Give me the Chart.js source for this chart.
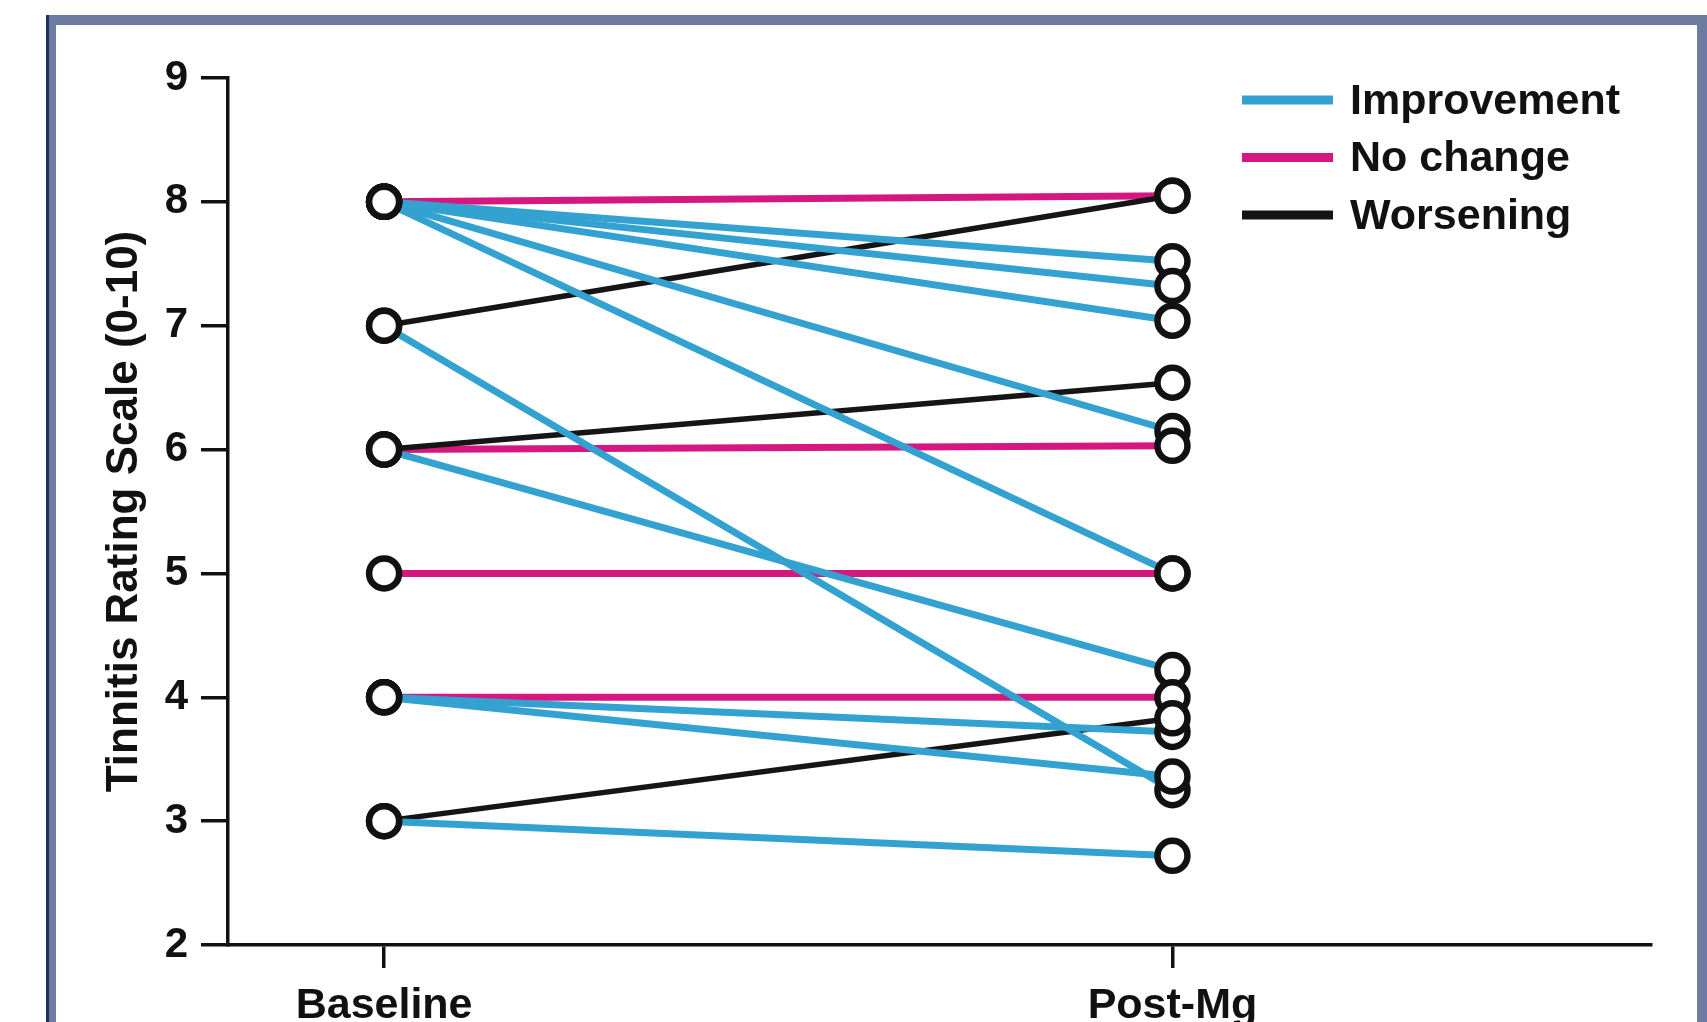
<!DOCTYPE html>
<html>
<head>
<meta charset="utf-8">
<script src="https://cdn.jsdelivr.net/npm/chart.js@4.4.1/dist/chart.umd.min.js"></script>
<style>
  html, body { margin: 0; padding: 0; background: #fff; overflow: hidden; }
  #frame { position: absolute; left: 46px; top: 15px; width: 1641px; height: 1100px; border: 10px solid #6b7ba1; border-bottom: none; }
  #frame::before { content: ''; position: absolute; left: -10px; top: -10px; width: 3px; bottom: 0; background: #22305e; }
  #wrap { position: absolute; left: 0; top: 0; width: 1707px; height: 1022px; }
</style>
</head>
<body>
<div id="frame"></div>
<div id="wrap"><canvas id="chart"></canvas></div>
<script>
const categories = ['Baseline', 'Post-Mg'];
const outcomeNames = ['Improvement', 'No change', 'Worsening'];

// one entry per patient
const baselineScores = [8, 8, 8, 8, 8, 7, 6, 4, 4, 3, 8, 6, 5, 4, 7, 6, 3];
const postMgScores = [7.52, 7.32, 7.04, 6.15, 5.0, 3.25, 4.22, 3.72, 3.36, 2.72, 8.05, 6.03, 5.0, 4.0, 8.05, 6.54, 3.83];
const patientOutcome = ['Improvement', 'Improvement', 'Improvement', 'Improvement', 'Improvement',
    'Improvement', 'Improvement', 'Improvement', 'Improvement', 'Improvement',
    'No change', 'No change', 'No change', 'No change',
    'Worsening', 'Worsening', 'Worsening'];

const yTicks = [2, 3, 4, 5, 6, 7, 8, 9];

const outcomeColors = { 'Improvement': '#33a2d1', 'No change': '#d6177f', 'Worsening': '#151515' };
const outcomeOrder = { 'Improvement': 1, 'No change': 3, 'Worsening': 2 };

Chart.defaults.font.family = '"Liberation Sans", Arial, sans-serif';
Chart.defaults.font.weight = 'bold';
Chart.defaults.color = '#111';

let datasets = [];
for (let i = 0; i < baselineScores.length; ++i) {
    datasets.push({
        label: patientOutcome[i],
        data: [{ x: 0, y: baselineScores[i] }, { x: 1, y: postMgScores[i] }],
        showLine: true,
        borderColor: outcomeColors[patientOutcome[i]],
        borderWidth: patientOutcome[i] === 'Worsening' ? 5.5 : 7,
        pointRadius: 0,
        order: outcomeOrder[patientOutcome[i]]
    });
}

// open circles on top of all lines
let circles = [];
for (let i = 0; i < baselineScores.length; ++i) {
    circles.push({ x: 0, y: baselineScores[i] });
    circles.push({ x: 1, y: postMgScores[i] });
}
datasets.push({
    label: 'points',
    data: circles,
    showLine: false,
    pointRadius: 15,
    pointBorderWidth: 6.5,
    pointBorderColor: '#111',
    pointBackgroundColor: '#fff',
    order: 0
});

const lineLegend = {
    id: 'lineLegend',
    afterDraw(chart) {
        const ctx = chart.ctx;
        const area = chart.chartArea;
        const x0 = area.right - 409;
        ctx.save();
        ctx.font = 'bold 43px "Liberation Sans", Arial, sans-serif';
        ctx.textBaseline = 'middle';
        ctx.textAlign = 'left';
        outcomeNames.forEach((name, i) => {
            const y = area.top + 22 + i * 57.5;
            ctx.strokeStyle = outcomeColors[name];
            ctx.lineWidth = 9;
            ctx.beginPath();
            ctx.moveTo(x0, y);
            ctx.lineTo(x0 + 91, y);
            ctx.stroke();
            ctx.fillStyle = '#111';
            ctx.fillText(name, x0 + 108, y + 2);
        });
        ctx.restore();
    }
};

new Chart(document.getElementById('chart'), {
    type: 'scatter',
    data: { datasets: datasets },
    options: {
        responsive: true,
        maintainAspectRatio: false,
        animation: false,
        events: [],
        layout: { padding: { left: 0, top: 78, right: 56, bottom: 0 } },
        plugins: {
            legend: { display: false },
            tooltip: { enabled: false }
        },
        scales: {
            x: {
                type: 'linear',
                min: -0.198,
                max: 1.607,
                afterBuildTicks: (scale) => { scale.ticks = categories.map((c, i) => ({ value: i })); },
                afterFit: (scale) => { scale.height = 77; },
                ticks: {
                    callback: (v) => categories[v],
                    font: { size: 43, weight: 'bold' },
                    color: '#111',
                    padding: 12,
                    maxRotation: 0
                },
                grid: { drawOnChartArea: false, tickLength: 23, color: '#111', lineWidth: 3.5 },
                border: { color: '#111', width: 3.5 }
            },
            y: {
                min: 2,
                max: 9,
                afterBuildTicks: (scale) => { scale.ticks = yTicks.map(v => ({ value: v })); },
                afterFit: (scale) => { scale.width = 228; },
                ticks: {
                    font: { size: 42, weight: 'bold' },
                    color: '#111',
                    padding: 13
                },
                grid: { drawOnChartArea: false, tickLength: 27, color: '#111', lineWidth: 3.5 },
                border: { color: '#111', width: 3.5 },
                title: {
                    display: true,
                    text: 'Tinnitis Rating Scale (0-10)',
                    font: { size: 44, weight: 'bold' },
                    color: '#111',
                    padding: { top: 98, bottom: 0 }
                }
            }
        }
    },
    plugins: [lineLegend]
});
</script>
</body>
</html>
